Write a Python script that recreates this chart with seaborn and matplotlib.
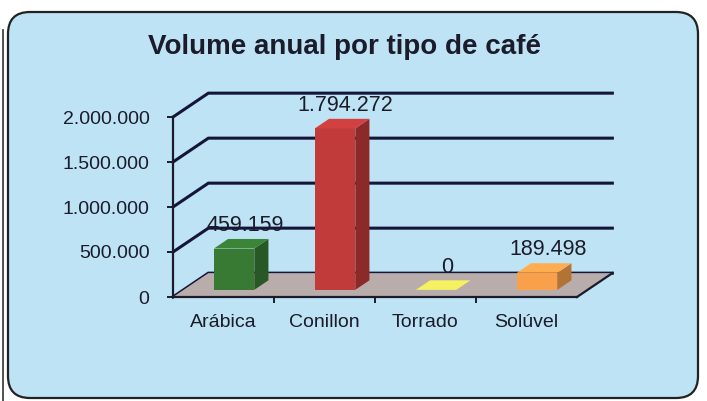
import matplotlib.pyplot as plt
import pandas as pd
import seaborn as sns
from matplotlib.colors import to_rgb
from matplotlib.patches import FancyBboxPatch, Polygon

plt.switch_backend("Agg")

CATEGORIES = ["Arábica", "Conillon", "Torrado", "Solúvel"]
VOLUMES = [459159, 1794272, 0, 189498]
COLORS = ["#387a33", "#c23b3b", "#e3df5a", "#f8a04a"]
Y_TICKS = [0, 500000, 1000000, 1500000, 2000000]
TITLE = "Volume anual por tipo de café"

# pseudo-3D depth of the plot box, in data units
DX, DY = 0.35, 265000
FRONT, BACK = 0.30, 0.70
GRID = "#15153a"
INK = "#1b1b2b"


def br_number(value: int) -> str:
    return f"{value:,}".replace(",", ".")


def shade(color: str, factor: float) -> tuple:
    return tuple(min(1.0, c * factor) for c in to_rgb(color))


plt.rcParams["font.family"] = ["Liberation Sans", "DejaVu Sans"]

fig = plt.figure(figsize=(7.07, 4.01), dpi=100, facecolor="white")

# background panel, drawn in pixel space
bg = fig.add_axes([0, 0, 1, 1])
bg.set_xlim(0, 707)
bg.set_ylim(401, 0)
bg.axis("off")
bg.add_patch(
    FancyBboxPatch(
        (8, 12), 690, 386, boxstyle="round,pad=0,rounding_size=22",
        facecolor="#bde3f4", edgecolor="#222222", linewidth=1.6,
    )
)
bg.plot([2.5, 2.5], [30, 401], color="#333333", linewidth=1.2)
bg.text(345, 47, TITLE, ha="center", va="center", fontsize=20,
        fontweight="bold", color=INK)

ax = fig.add_axes([173 / 707, 1 - 297 / 401, 404 / 707, 180 / 401])
ax.set_facecolor("none")

data = pd.DataFrame({"tipo": CATEGORIES, "volume": VOLUMES})
sns.barplot(data=data, x="tipo", y="volume", hue="tipo", order=CATEGORIES,
            hue_order=CATEGORIES, palette=COLORS, width=0.4, legend=False,
            saturation=1, ax=ax)
ax.set_xlim(-0.5, len(CATEGORIES) - 0.5)
ax.set_ylim(0, Y_TICKS[-1])
x_left, x_right = ax.get_xlim()

# back wall gridlines and floor
for tick in Y_TICKS:
    ax.plot([x_left, x_left + DX, x_right + DX], [tick, tick + DY, tick + DY],
            color=GRID, linewidth=2.2, zorder=1, clip_on=False,
            solid_joinstyle="miter")
ax.add_patch(Polygon([(x_left, 0), (x_left + DX, DY), (x_right + DX, DY), (x_right, 0)],
                     closed=True, facecolor="#b8adab", edgecolor="none",
                     zorder=1.5, clip_on=False))
ax.plot([x_right, x_right + DX], [0, DY], color=INK, linewidth=1.6,
        zorder=5, clip_on=False)

# turn the flat seaborn bars into boxes
bars = list(ax.patches)[: len(CATEGORIES)]
for bar, color in zip(bars, COLORS):
    x0, w, h = bar.get_x(), bar.get_width(), bar.get_height()
    x1 = x0 + w
    fx, fy, bx, by = FRONT * DX, FRONT * DY, BACK * DX, BACK * DY
    bar.set_x(x0 + fx)
    bar.set_y(fy)
    bar.set_zorder(3)
    bar.set_clip_on(False)
    bar.set_edgecolor("none")
    side = [(x1 + fx, fy), (x1 + bx, by), (x1 + bx, by + h), (x1 + fx, fy + h)]
    top = [(x0 + fx, fy + h), (x0 + bx, by + h), (x1 + bx, by + h), (x1 + fx, fy + h)]
    ax.add_patch(Polygon(side, closed=True, facecolor=shade(color, 0.72),
                         edgecolor="none", zorder=3, clip_on=False))
    ax.add_patch(Polygon(top, closed=True, facecolor=shade(color, 1.08),
                         edgecolor="none", zorder=3, clip_on=False))

for i, value in enumerate(VOLUMES):
    ax.annotate(br_number(value), (i + 0.6 * DX, value + BACK * DY),
                xytext=(0, 2), textcoords="offset points", ha="center",
                va="bottom", fontsize=15.5, color=INK, zorder=6,
                annotation_clip=False)

# axes: front plane spines and ticks
for name in ("top", "right"):
    ax.spines[name].set_visible(False)
for name in ("left", "bottom"):
    ax.spines[name].set_color(INK)
    ax.spines[name].set_linewidth(1.6)
    ax.spines[name].set_zorder(5)
ax.set_yticks(Y_TICKS, [br_number(t) for t in Y_TICKS])
ax.set_xticks(range(len(CATEGORIES)), CATEGORIES)
ax.set_xticks([i + 0.5 for i in range(len(CATEGORIES) - 1)], minor=True)
ax.tick_params(axis="y", length=4, width=1.4, color=INK, pad=13,
               labelsize=14, labelcolor=INK)
ax.tick_params(axis="x", which="major", length=0, pad=12,
               labelsize=14, labelcolor=INK)
ax.tick_params(axis="x", which="minor", length=4, width=1.4, color=INK)
ax.set_xlabel("")
ax.set_ylabel("")

fig.savefig("out.png", dpi=100)
